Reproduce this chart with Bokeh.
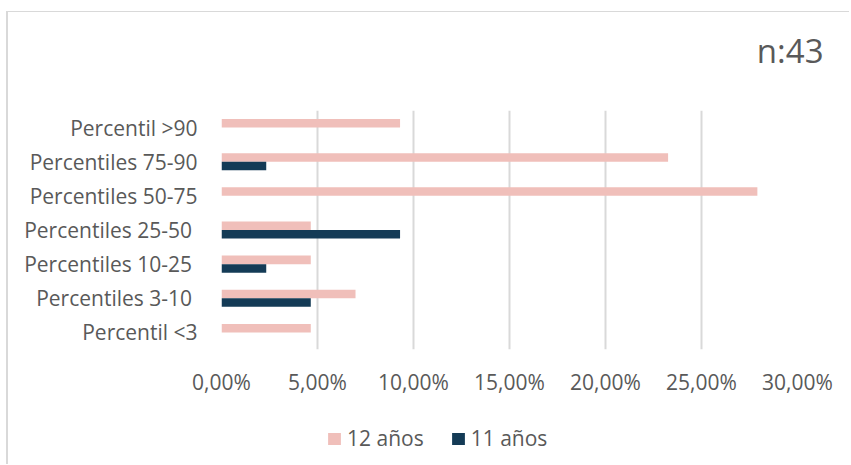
from bokeh.plotting import figure
from bokeh.layouts import column
from bokeh.models import (ColumnDataSource, FactorRange, Range1d, FixedTicker,
                          CustomJSTickFormatter, Legend, LegendItem, Title)
from bokeh.transform import dodge
from bokeh.embed import file_html
from bokeh.resources import INLINE

categories = ["Percentil >90", "Percentiles 75-90", "Percentiles 50-75",
              "Percentiles 25-50 ", "Percentiles 10-25 ", "Percentiles 3-10 ",
              "Percentil <3"]
age12 = [0.0930, 0.2326, 0.2791, 0.0465, 0.0465, 0.0698, 0.0465]
age11 = [0.0, 0.0233, 0.0, 0.0930, 0.0233, 0.0465, 0.0]
x_ticks = [0.0, 0.05, 0.10, 0.15, 0.20, 0.25, 0.30]
series_names = ["12 años", "11 años"]
n_label = "n:43"

PINK = "#F0BFBA"
NAVY = "#143B56"
TEXT = "#595959"
GRID = "#D9D9D9"
FONT = "Open Sans"

src = ColumnDataSource(dict(cat=categories, a12=age12, a11=age11))

p = figure(width=843, height=400, output_backend="svg", toolbar_location=None,
           y_range=FactorRange(factors=list(reversed(categories))),
           x_range=Range1d(0, 0.30),
           min_border_left=213, min_border_right=54,
           min_border_top=98, min_border_bottom=63)
p.outline_line_color = None
p.background_fill_color = "white"
p.border_fill_color = "white"
# trailing blank line lifts the text within the title panel
p.title = Title(text=n_label + "\n", align="right", offset=-26, standoff=-14,
                text_font=FONT, text_font_size="33px", text_font_style="normal",
                text_color=TEXT)

p.hbar(y=dodge("cat", 0.125, range=p.y_range), left=0, right="a12", height=0.25,
       source=src, fill_color=PINK, line_color=None)
p.hbar(y=dodge("cat", -0.125, range=p.y_range), left=0, right="a11", height=0.25,
       source=src, fill_color=NAVY, line_color=None)

# axes
p.xaxis.ticker = FixedTicker(ticks=x_ticks)
p.xaxis.formatter = CustomJSTickFormatter(code="return (tick*100).toFixed(2).replace('.', ',') + '%';")
for ax in (p.xaxis[0], p.yaxis[0]):
    ax.axis_line_color = None
    ax.major_tick_line_color = None
    ax.minor_tick_line_color = None
    ax.major_tick_in = 0
    ax.major_tick_out = 0
    ax.major_label_text_font = FONT
    ax.major_label_text_font_size = "21px"
    ax.major_label_text_color = TEXT
p.xaxis.major_label_standoff = 18
p.yaxis.major_label_standoff = 24

p.xgrid.ticker = FixedTicker(ticks=x_ticks)
p.xgrid.grid_line_color = GRID
p.xgrid.grid_line_width = 2
p.ygrid.grid_line_color = None

# legend strip (frame aligned with the chart frame by the column layout)
lg = figure(width=843, height=53, output_backend="svg", toolbar_location=None,
            x_axis_type=None, y_axis_type=None,
            min_border_left=0, min_border_right=0, min_border_top=0, min_border_bottom=0)
lg.outline_line_color = None
lg.grid.visible = False
lg.border_fill_color = "white"
key_src = ColumnDataSource(dict(y=[0], left=[0], right=[0]))
k12 = lg.hbar(y="y", left="left", right="right", height=1, source=key_src,
              fill_color=PINK, line_color=None)
k11 = lg.hbar(y="y", left="left", right="right", height=1, source=key_src,
              fill_color=NAVY, line_color=None)
legend = Legend(items=[LegendItem(label=series_names[0], renderers=[k12]),
                       LegendItem(label=series_names[1], renderers=[k11])],
                orientation="horizontal", location=(105, 13),
                glyph_width=16, glyph_height=15, label_standoff=5, spacing=26,
                padding=0, margin=0, border_line_color=None, background_fill_alpha=0,
                label_text_font=FONT, label_text_font_size="21px", label_text_color=TEXT)
lg.add_layout(legend, "center")

layout = column(p, lg, spacing=0)
layout.margin = (12, 0, 0, 8)
layout.styles = {"box-shadow": "-2px -1px 0 0 #D9D9D9"}

open("out.html", "w").write(file_html(layout, INLINE))
